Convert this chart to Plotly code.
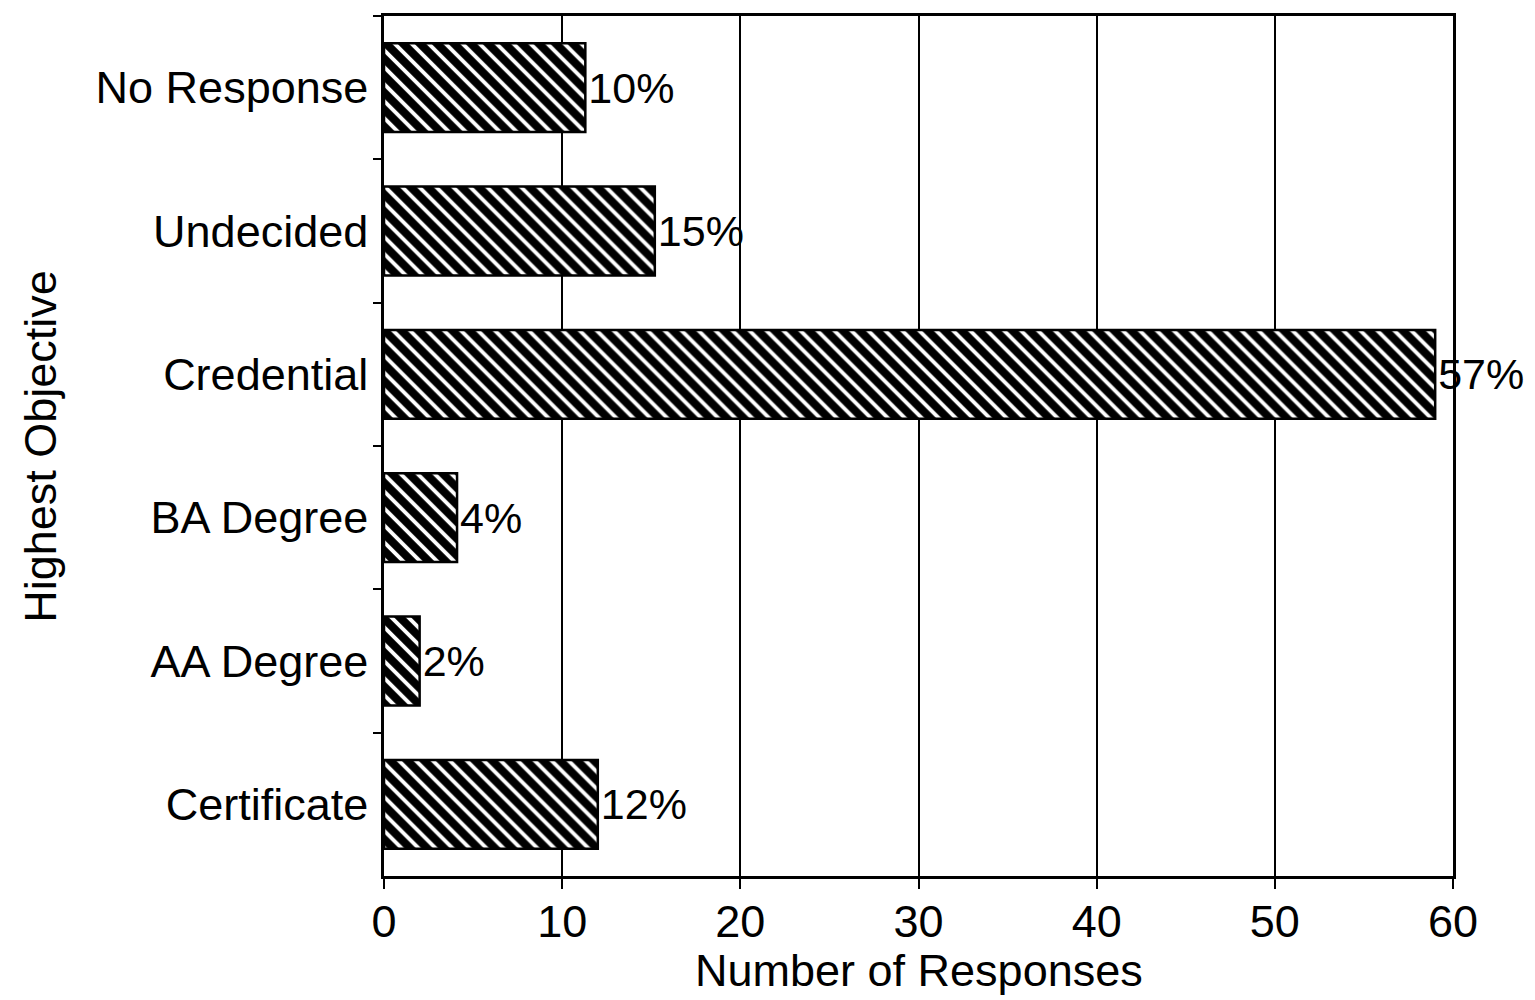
import plotly.graph_objects as go

categories = ["No Response", "Undecided", "Credential", "BA Degree", "AA Degree", "Certificate"]
responses = [11.3, 15.2, 59.0, 4.1, 2.0, 12.0]
percent_labels = ["10%", "15%", "57%", "4%", "2%", "12%"]
x_ticks = [0, 10, 20, 30, 40, 50, 60]

FONT = "Liberation Sans, Arial, Helvetica, sans-serif"
FS = 45

fig = go.Figure(
    go.Bar(
        y=categories,
        x=responses,
        orientation="h",
        width=0.62,
        text=percent_labels,
        textposition="outside",
        cliponaxis=False,
        textfont=dict(family=FONT, size=43, color="black"),
        marker=dict(
            color="black",
            line=dict(color="black", width=2.5),
            pattern=dict(shape="\\", fgcolor="white", bgcolor="black", size=12, solidity=0.32, fgopacity=1),
        ),
    )
)

fig.update_layout(
    width=1535,
    height=1000,
    paper_bgcolor="white",
    plot_bgcolor="white",
    margin=dict(l=376, r=90, t=8, b=132),
    showlegend=False,
    font=dict(family=FONT, size=FS, color="black"),
    xaxis=dict(
        range=[0, 60],
        automargin=False,
        tickvals=x_ticks,
        ticktext=[str(v) for v in x_ticks],
        showgrid=True,
        gridcolor="black",
        gridwidth=1.5,
        showline=True,
        linecolor="black",
        linewidth=2.5,
        mirror=True,
        ticks="outside",
        ticklen=10,
        tickwidth=2,
        tickcolor="black",
        zeroline=False,
        ticklabelstandoff=-6,
        tickfont=dict(family=FONT, size=FS, color="black"),
    ),
    yaxis=dict(
        automargin=False,
        categoryorder="array",
        categoryarray=categories,
        autorange="reversed",
        tickson="boundaries",
        ticks="outside",
        ticklen=8,
        tickwidth=2,
        tickcolor="black",
        showline=True,
        linecolor="black",
        linewidth=2.5,
        mirror=True,
        showgrid=False,
        tickfont=dict(family=FONT, size=FS, color="black"),
        ticklabelstandoff=4,
    ),
    annotations=[
        dict(text="Number of Responses", xref="paper", yref="paper", x=0.5, y=-0.11,
             xanchor="center", yanchor="middle", showarrow=False,
             font=dict(family=FONT, size=FS, color="black")),
        dict(text="Highest Objective", xref="paper", yref="paper", x=-0.322, y=0.5,
             xanchor="center", yanchor="middle", textangle=-90, showarrow=False,
             font=dict(family=FONT, size=FS, color="black")),
    ],
)

fig.write_html("out.html")
